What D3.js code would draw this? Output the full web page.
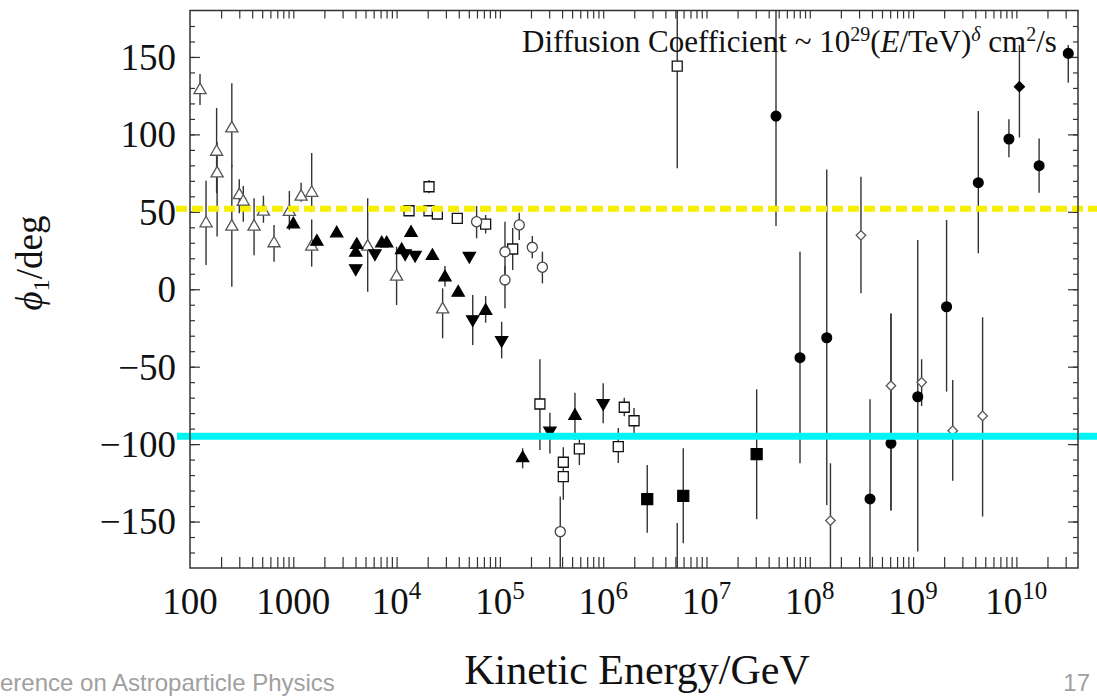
<!DOCTYPE html>
<html>
<head>
<meta charset="utf-8">
<script src="https://cdn.jsdelivr.net/npm/d3@7"></script>
<style>
  body { margin: 0; background: #fff; }
  svg { display: block; font-family: 'Liberation Serif', 'Times New Roman', serif; }
</style>
</head>
<body>
<div id="chart"></div>
<script>
// rows: [kinetic energy (GeV), phi1 (deg), error low, error high]
const openTriangles = [
  [125, 128.6, 119, 139], [143, 42.6, 15.7, 70], [181, 88.8, 62, 117], [183, 74.8, 34, 95],
  [254, 103.9, 79, 133], [254, 40.4, 1.6, 80], [300, 60.8, 49, 71], [328, 56.5, 43.6, 66.6],
  [417, 40.4, 22, 58.7], [514, 50.1, 43, 60.4], [651, 29.7, 17.8, 41.5], [916, 50, 38.2, 63.4],
  [1190, 59.8, 56.5, 68.8], [1507, 62.3, 50, 88], [1507, 27.5, 14.6, 45], [5250, 27.5, -1.6, 58.7],
  [10000, 8.1, -10.2, 27.5], [27900, -13, -31.7, 0.6]
]
const filledUpTriangles = [
  [1000, 41.9], [1690, 30.7], [2630, 36.1], [4110, 28.6], [4020, 23.6], [7180, 29.6], [8020, 29.6],
  [11200, 25.3], [13800, 36.5], [22200, 21.5], [29400, 7.7, 1.7, 15], [39500, -2.2],
  [72800, -14, -21.6, -4.4], [166000, -109.1, -115.6, -102.7], [533000, -81.8, -97.3, -66.8]
]
const filledDownTriangles = [
  [4020, 13.5], [6170, 23.2], [12100, 23.2], [15100, 22.1], [50600, 21.5],
  [54600, -19.4, -36, -3.7], [104000, -32.8, -44.6, -21], [305000, -91.3, -106, -79.7],
  [1.0e6, -73.6, -86.5, -60.7]
]
const openSquares = [
  [13200, 50.7], [20600, 66.2, 62, 70.5], [20600, 50.7], [24800, 48.6], [38700, 45.8],
  [72800, 42.1, 36, 48], [133000, 26, 12.4, 39.5], [244000, -74.1, -103.8, -45.2],
  [411000, -111.7, -116, -102], [411000, -121, -136, -116], [588000, -103.1, -113.5, -96],
  [1.4e6, -101.6, -112.2, -89.6], [1.6e6, -76.2, -82, -70], [1.99e6, -84.9, -92.8, -76.7],
  [5.21e6, 144.1, 78.1, 190], [5.21e6, -200, -220, -151]
]
const openCircles = [
  [59500, 43.6, 32.9, 53.7], [112000, 24.2, 10, 43.6], [112000, 6.0, -12.3, 15],
  [154000, 41.5, 31.8, 49.4], [206000, 27.1, 20, 34.4], [258000, 14.2, 3.8, 24.2],
  [384000, -156.5, -190, -133.9]
]
const filledSquares = [
  [2.67e6, -135.6, -157.2, -113.5], [5.96e6, -133.5, -164, -102.7], [3.06e7, -106.4, -148.5, -64.6]
]
const filledCircles = [
  [4.71e7, 111.8, 40.8, 190], [8.04e7, -44.2, -112.4, 24.2], [1.46e8, -31.3, -139.3, 77.4],
  [3.83e8, -135.4, -190, -71], [6.11e8, -99.5, -142.5, -15.5], [1.11e9, -69.4, -169.4, 31.8],
  [2.11e9, -11.3, -66.1, 44.7], [4.28e9, 68.8, 23.2, 115.1], [8.47e9, 97, 85.2, 109.7],
  [1.66e10, 79.8, 62.3, 97.4], [3.18e10, 152.3, 133.4, 157.7]
]
const filledDiamonds = [[1.07e10, 130.8, 98, 157.7]]
const openDiamonds = [
  [3.13e8, 34.8, -2.6, 72.7], [6.11e8, -62.3, -143, -16], [1.585e8, -149.4, -190, -112.4],
  [1.21e9, -60.1, -75.4, -45.2], [2.42e9, -91.3, -123.6, -58.6], [4.71e9, -81.8, -146.8, -18.1]
]

const yellowLevel = 52
const cyanLevel = -95
const yTickLabels = [-150, -100, -50, 0, 50, 100, 150]
const xTickLabels = [['100'], ['1000'], ['10', '4'], ['10', '5'], ['10', '6'], ['10', '7'], ['10', '8'], ['10', '9'], ['10', '10']]
const xTickValues = [1e2, 1e3, 1e4, 1e5, 1e6, 1e7, 1e8, 1e9, 1e10]

const W = 1097, H = 697
const margins = { left: 190, top: 10.5, right: 19, bottom: 129 }
const pw = W - margins.left - margins.right
const ph = H - margins.top - margins.bottom

const svg = d3.select('#chart').append('svg').attr('width', W).attr('height', H)
const plot = svg.append('g').attr('transform', `translate(${margins.left}, ${margins.top})`)

const x = d3.scaleLog().domain([100, 3.95e10]).range([0, pw])
const y = d3.scaleLinear().domain([-180, 180]).range([ph, 0])

plot.append('clipPath').attr('id', 'clip')
  .append('rect').attr('width', pw).attr('height', ph)

// minor ticks 1..9 per decade
const minorX = []
for (let e = 2; e <= 10; e++) for (let k = 1; k <= 9; k++) {
  const v = k * 10 ** e
  if (v > 100 && v < 3.95e10) minorX.push(v)
}
const minorY = d3.range(-170, 180, 10)

const tickStyle = g => {
  g.select('.domain').remove()
  g.selectAll('line').attr('stroke', '#333').attr('stroke-width', 1.2)
  g.selectAll('text').remove()
}

plot.append('g').attr('transform', `translate(0, ${ph})`)
  .call(d3.axisBottom(x).tickValues(minorX).tickSize(-11)).call(tickStyle)
plot.append('g')
  .call(d3.axisTop(x).tickValues(minorX).tickSize(-8)).call(tickStyle)
plot.append('g')
  .call(d3.axisLeft(y).tickValues(minorY).tickSize(-5)).call(tickStyle)
plot.append('g')
  .call(d3.axisLeft(y).tickValues(yTickLabels).tickSize(-10)).call(tickStyle)
plot.append('g').attr('transform', `translate(${pw}, 0)`)
  .call(d3.axisRight(y).tickValues(minorY).tickSize(-5)).call(tickStyle)
plot.append('g').attr('transform', `translate(${pw}, 0)`)
  .call(d3.axisRight(y).tickValues(yTickLabels).tickSize(-10)).call(tickStyle)

// tick labels
plot.append('g').selectAll('text').data(yTickLabels).join('text')
  .attr('x', -14).attr('y', d => y(d)).attr('dy', '0.35em')
  .attr('text-anchor', 'end').attr('font-size', 37).attr('fill', '#111')
  .text(d => d < 0 ? '\u2212' + Math.abs(d) : d)

const xl = plot.append('g').selectAll('text').data(xTickValues).join('text')
  .attr('x', d => x(d)).attr('y', ph + 46)
  .attr('text-anchor', 'middle').attr('font-size', 37).attr('fill', '#111')
xl.each(function(d, i) {
  const t = d3.select(this)
  const lab = xTickLabels[i]
  t.append('tspan').text(lab[0])
  if (lab[1]) t.append('tspan').attr('font-size', 25).attr('dy', -15).text(lab[1])
})

// data
const data = plot.append('g').attr('clip-path', 'url(#clip)')

const series = [
  { rows: openTriangles, shape: d3.symbolTriangle, size: 64, fill: '#fff', stroke: '#555', rot: 0 },
  { rows: filledUpTriangles, shape: d3.symbolTriangle, size: 64, fill: '#000', stroke: '#000', rot: 0 },
  { rows: filledDownTriangles, shape: d3.symbolTriangle, size: 64, fill: '#000', stroke: '#000', rot: 180 },
  { rows: openSquares, shape: d3.symbolSquare, size: 100, fill: '#fff', stroke: '#111', rot: 0 },
  { rows: openCircles, shape: d3.symbolCircle, size: 80, fill: '#fff', stroke: '#444', rot: 0 },
  { rows: filledSquares, shape: d3.symbolSquare, size: 120, fill: '#000', stroke: '#000', rot: 0 },
  { rows: filledCircles, shape: d3.symbolCircle, size: 75, fill: '#000', stroke: '#000', rot: 0 },
  { rows: filledDiamonds, shape: d3.symbolSquare, size: 50, fill: '#000', stroke: '#000', rot: 45 },
  { rows: openDiamonds, shape: d3.symbolSquare, size: 45, fill: '#fff', stroke: '#555', rot: 45 }
]

series.forEach(s => {
  data.append('g').selectAll('line').data(s.rows.filter(r => r.length > 2)).join('line')
    .attr('x1', d => x(d[0])).attr('x2', d => x(d[0]))
    .attr('y1', d => y(d[2])).attr('y2', d => y(d[3]))
    .attr('stroke', '#333').attr('stroke-width', 1.4)
})
series.forEach(s => {
  data.append('g').selectAll('path').data(s.rows).join('path')
    .attr('d', d3.symbol(s.shape, s.size))
    .attr('transform', d => `translate(${x(d[0])}, ${y(d[1])}) rotate(${s.rot})`)
    .attr('fill', s.fill).attr('stroke', s.stroke).attr('stroke-width', 1.3)
})

// reference levels
plot.append('line')
  .attr('x1', -14).attr('x2', W - margins.left)
  .attr('y1', y(yellowLevel)).attr('y2', y(yellowLevel))
  .attr('stroke', '#f5ef00').attr('stroke-width', 6).attr('stroke-dasharray', '11 5')
plot.append('line')
  .attr('x1', -13).attr('x2', W - margins.left)
  .attr('y1', y(cyanLevel)).attr('y2', y(cyanLevel))
  .attr('stroke', '#00f4f4').attr('stroke-width', 7)

// frame
plot.append('rect').attr('width', pw).attr('height', ph)
  .attr('fill', 'none').attr('stroke', '#333').attr('stroke-width', 1.5)

// annotation
const note = svg.append('text').attr('x', 522).attr('y', 52).attr('font-size', 31).attr('fill', '#111')
note.append('tspan').text('Diffusion Coefficient ~ 10')
note.append('tspan').attr('font-size', 20).attr('dy', -11).text('29')
note.append('tspan').attr('dy', 11).text('(')
note.append('tspan').attr('font-style', 'italic').text('E')
note.append('tspan').text('/TeV)')
note.append('tspan').attr('font-size', 20).attr('dy', -11).attr('font-style', 'italic').text('\u03b4')
note.append('tspan').attr('dy', 11).text(' cm')
note.append('tspan').attr('font-size', 20).attr('dy', -11).text('2')
note.append('tspan').attr('dy', 11).text('/s')

// axis titles
svg.append('text').attr('x', margins.left + pw / 2 + 3).attr('y', 684)
  .attr('text-anchor', 'middle').attr('font-size', 42).attr('fill', '#111')
  .text('Kinetic Energy/GeV')

const yt = svg.append('text').attr('transform', 'translate(42, 263) rotate(-90)')
  .attr('text-anchor', 'middle').attr('font-size', 37).attr('fill', '#111')
yt.append('tspan').attr('font-style', 'italic').text('\u03d5')
yt.append('tspan').attr('font-size', 24).attr('dy', 7).text('1')
yt.append('tspan').attr('dy', -7).text('/deg')

// slide footer
svg.append('text').attr('x', 0).attr('y', 691).attr('font-size', 24).attr('fill', '#a0a0a0')
  .attr('font-family', "'Liberation Sans Narrow', 'Liberation Sans', sans-serif")
  .text('erence on Astroparticle Physics')
svg.append('text').attr('x', 1090).attr('y', 691).attr('text-anchor', 'end').attr('font-size', 24).attr('fill', '#a0a0a0')
  .attr('font-family', "'Liberation Sans Narrow', 'Liberation Sans', sans-serif")
  .text('17')
</script>
</body>
</html>
